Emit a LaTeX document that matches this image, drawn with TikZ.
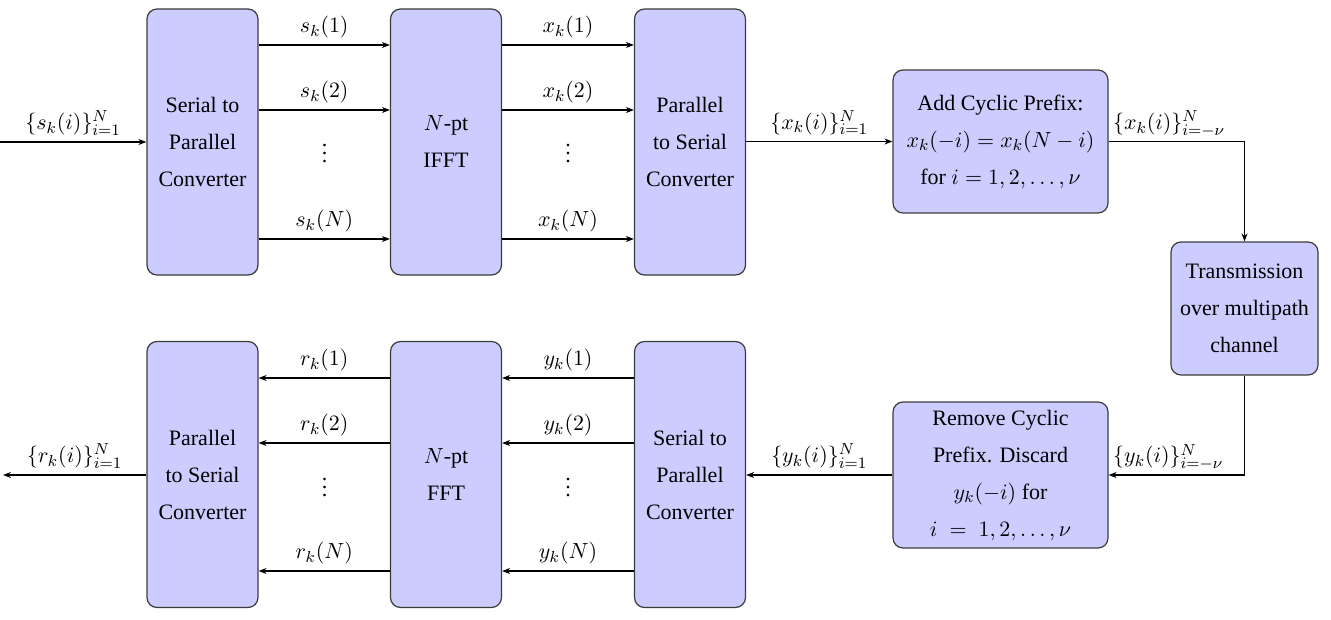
\documentclass[tikz,border=0pt]{standalone}
\usepackage{fontspec}
\setmainfont{Liberation Serif}
\newfontfamily\tnr{Liberation Serif}
\usetikzlibrary{arrows.meta}
\definecolor{blockfill}{RGB}{204,204,255}
\definecolor{blockdraw}{RGB}{60,60,60}
\begin{document}
\begin{tikzpicture}[x=0.5pt,y=-0.5pt,
  blk/.style={draw=blockdraw, fill=blockfill, rounded corners=5pt, line width=0.6pt,
    align=center, font=\tnr\fontsize{11}{18.5}\selectfont, inner sep=0pt},
  conv/.style={blk, minimum width=55.5pt, minimum height=133pt},
  sig/.style={-{Stealth[length=4pt,width=3pt]}, line width=0.55pt},
  lab/.style={font=\tnr\fontsize{11}{13}\selectfont, inner sep=3pt},
  dts/.style={font=\tnr\fontsize{11}{13}\selectfont, inner sep=0pt}]
\useasboundingbox (0,0) rectangle (1331,620);

% top row
\node[conv] (s2p)  at (202.5,142) {Serial to\\Parallel\\Converter};
\node[conv] (ifft) at (446,142) {$N$-pt\\IFFT};
\node[conv] (p2s)  at (690,142) {Parallel\\to Serial\\Converter};
\node[blk, minimum width=107.5pt, minimum height=71.5pt] (addcp) at (1000.5,141.5)
  {Add Cyclic Prefix:\\$x_k(-i)=x_k(N-i)$\\for $i=1,2,\ldots,\nu$};
\node[blk, minimum width=73.5pt, minimum height=66.5pt] (trans) at (1244.5,308.5)
  {Transmission\\over multipath\\channel};
% bottom row
\node[blk, minimum width=107.5pt, minimum height=73pt] (remcp) at (1000.5,475)
  {Remove Cyclic\\Prefix. Discard\\$y_k(-i)$ for\\$i\;=\;1,2,\ldots,\nu$};
\node[conv] (bs2p) at (690,474.5) {Serial to\\Parallel\\Converter};
\node[conv] (fft)  at (446,474.5) {$N$-pt\\FFT};
\node[conv] (bp2s) at (202.5,474.5) {Parallel\\to Serial\\Converter};

% row coordinates
\coordinate (t1) at (0,45);
\coordinate (t2) at (0,110);
\coordinate (tn) at (0,239);
\coordinate (b1) at (0,378);
\coordinate (b2) at (0,443);
\coordinate (bn) at (0,571);
\coordinate (in) at (0,142);
\coordinate (out) at (3,475);

% input
\draw[sig] (in) -- (s2p.west |- in) node[lab, midway, above] {$\{s_k(i)\}_{i=1}^{N}$};
% s2p -> ifft
\draw[sig] (s2p.east |- t1) -- (ifft.west |- t1) node[lab, midway, above] {$s_k(1)$};
\draw[sig] (s2p.east |- t2) -- (ifft.west |- t2) node[lab, midway, above] {$s_k(2)$};
\draw[sig] (s2p.east |- tn) -- (ifft.west |- tn) node[lab, midway, above] {$s_k(N)$};
\node[dts] (d1) at (324.5,148) {$\vdots$};
% ifft -> p2s
\draw[sig] (ifft.east |- t1) -- (p2s.west |- t1) node[lab, midway, above] {$x_k(1)$};
\draw[sig] (ifft.east |- t2) -- (p2s.west |- t2) node[lab, midway, above] {$x_k(2)$};
\draw[sig] (ifft.east |- tn) -- (p2s.west |- tn) node[lab, midway, above] {$x_k(N)$};
\node[dts] (d2) at (568,148) {$\vdots$};
% p2s -> addcp
\draw[sig] (p2s.east |- addcp.west) -- (addcp.west) node[lab, midway, above] {$\{x_k(i)\}_{i=1}^{N}$};
% addcp -> trans
\draw[sig] (addcp.east) node[lab, anchor=south west, inner sep=2pt] {$\{x_k(i)\}_{i=-\nu}^{N}$} -| (trans.north);
% trans -> remcp
\draw[sig] (trans.south) |- (remcp.east) node[lab, anchor=south west, inner sep=2pt] {$\{y_k(i)\}_{i=-\nu}^{N}$};
% remcp -> bs2p
\draw[sig] (remcp.west) -- (bs2p.east |- remcp.west) node[lab, midway, above] {$\{y_k(i)\}_{i=1}^{N}$};
% bs2p -> fft
\draw[sig] (bs2p.west |- b1) -- (fft.east |- b1) node[lab, midway, above] {$y_k(1)$};
\draw[sig] (bs2p.west |- b2) -- (fft.east |- b2) node[lab, midway, above] {$y_k(2)$};
\draw[sig] (bs2p.west |- bn) -- (fft.east |- bn) node[lab, midway, above] {$y_k(N)$};
\node[dts] (d3) at (568,482) {$\vdots$};
% fft -> bp2s
\draw[sig] (fft.west |- b1) -- (bp2s.east |- b1) node[lab, midway, above] {$r_k(1)$};
\draw[sig] (fft.west |- b2) -- (bp2s.east |- b2) node[lab, midway, above] {$r_k(2)$};
\draw[sig] (fft.west |- bn) -- (bp2s.east |- bn) node[lab, midway, above] {$r_k(N)$};
\node[dts] (d4) at (324.5,482) {$\vdots$};
% output
\draw[sig] (bp2s.west |- out) -- (out) node[lab, midway, above] {$\{r_k(i)\}_{i=1}^{N}$};
\end{tikzpicture}
\end{document}
